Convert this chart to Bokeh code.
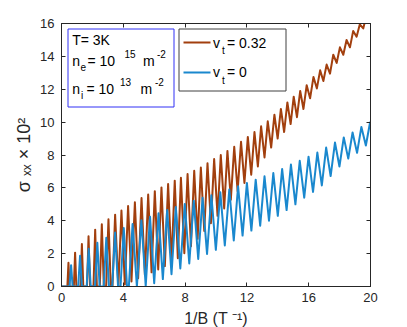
import numpy as np
from bokeh.plotting import figure
from bokeh.models import Range1d, LinearAxis, Label, BoxAnnotation, PolyAnnotation, FixedTicker
from bokeh.embed import file_html
from bokeh.resources import INLINE

# ---------------- data ----------------
# v_t = 0.32 (orange): maxima and minima of the oscillating curve
vt032_peak_x = [0.45, 0.88, 1.32, 1.75, 2.18, 2.61, 3.04, 3.47, 3.88, 4.31, 4.75, 5.18,
                5.61, 6.04, 6.47, 6.90, 7.33, 7.73, 8.16, 8.59, 9.02, 9.45, 9.88, 10.31,
                10.74, 11.18, 11.62, 12.06, 12.49, 12.92, 13.35, 13.78, 14.20, 14.62, 15.03,
                15.45, 15.87, 16.31, 16.74, 17.16, 17.59, 18.02, 18.45, 18.88, 19.31, 19.74]
vt032_peak_y = [1.44, 2.06, 2.59, 3.06, 3.46, 3.78, 4.09, 4.37, 4.62, 4.90, 5.12, 5.38,
                5.59, 5.80, 6.03, 6.24, 6.44, 6.62, 6.84, 7.04, 7.24, 7.50, 7.75, 8.00,
                8.25, 8.50, 8.80, 9.10, 9.40, 9.75, 10.05, 10.45, 10.80, 11.20, 11.55,
                11.90, 12.25, 12.75, 13.15, 13.50, 14.10, 14.55, 15.00, 15.55, 15.95, 16.50]
vt032_trough_x = [0.00, 0.38, 0.52, 0.80, 0.96, 1.23, 1.41, 1.65, 1.85, 2.07, 2.29, 2.48,
                  2.74, 2.89, 3.19, 3.30, 3.68, 4.10, 4.53, 4.96, 5.40, 5.83, 6.26, 6.69,
                  7.12, 7.53, 7.95, 8.38, 8.81, 9.24, 9.67, 10.10, 10.53, 10.96, 11.40,
                  11.84, 12.28, 12.71, 13.14, 13.57, 13.99, 14.41, 14.83, 15.24, 15.66,
                  16.09, 16.53, 16.95, 17.38, 17.81, 18.24, 18.67, 19.10, 19.53, 20.00]
vt032_trough_y = [0.00, 0.00, 0.00, 0.00, 0.00, 0.00, 0.00, 0.00, 0.00, 0.00, 0.00, 0.00,
                  0.00, 0.00, 0.00, 0.00, 0.00, 0.12, 0.30, 0.50, 0.68, 0.86, 1.04, 1.24,
                  1.45, 1.72, 2.02, 2.45, 2.90, 3.38, 3.85, 4.30, 4.75, 5.28, 5.80,
                  6.30, 6.80, 7.30, 7.85, 8.45, 9.00, 9.40, 9.88, 10.30, 10.80,
                  11.45, 12.05, 12.50, 12.95, 13.60, 14.10, 14.55, 15.20, 15.70, 16.35]

# v_t = 0 (blue)
vt0_peak_x = [0.62, 1.20, 1.76, 2.32, 2.90, 3.47, 4.03, 4.60, 5.17, 5.73, 6.28, 6.84,
              7.40, 7.98, 8.56, 9.13, 9.70, 10.28, 10.86, 11.43, 12.00, 12.57, 13.14,
              13.71, 14.28, 14.85, 15.42, 15.99, 16.56, 17.13, 17.70, 18.27, 18.84, 19.41, 19.98]
vt0_peak_y = [1.30, 1.87, 2.30, 2.66, 2.97, 3.28, 3.56, 3.80, 4.03, 4.25, 4.45, 4.65,
              4.83, 5.02, 5.22, 5.40, 5.55, 5.73, 5.90, 6.10, 6.30, 6.50, 6.70,
              6.90, 7.15, 7.42, 7.65, 7.90, 8.15, 8.45, 8.76, 9.07, 9.37, 9.71, 10.02]
vt0_trough_x = [0.00, 0.52, 0.72, 1.08, 1.32, 1.63, 1.89, 2.17, 2.47, 2.73, 3.07, 3.28,
                3.66, 3.82, 4.24, 4.36, 4.88, 5.45, 6.00, 6.56, 7.12, 7.69, 8.27, 8.85,
                9.42, 9.99, 10.57, 11.15, 11.72, 12.29, 12.86, 13.43, 14.00, 14.57, 15.14,
                15.71, 16.28, 16.85, 17.42, 17.99, 18.56, 19.13, 19.70]
vt0_trough_y = [0.00, 0.00, 0.00, 0.00, 0.00, 0.00, 0.00, 0.00, 0.00, 0.00, 0.00, 0.00,
                0.00, 0.00, 0.00, 0.00, 0.00, 0.03, 0.20, 0.45, 0.75, 1.10, 1.40, 1.68,
                1.98, 2.23, 2.50, 2.80, 3.10, 3.40, 3.70, 4.00, 4.30, 4.65, 5.00,
                5.40, 5.75, 6.15, 6.72, 7.30, 7.78, 8.13, 8.58]

x_ticks = [0, 4, 8, 12, 16, 20]
y_ticks = [0, 2, 4, 6, 8, 10, 12, 14, 16]

ORANGE = "#A23F0E"
BLUE = "#1A88CE"
AX = "#262626"
FONT = "Liberation Sans"


def merge(px, py, tx, ty):
    pts = sorted(zip(px + tx, py + ty))
    return [a for a, _ in pts], [b for _, b in pts]


ox, oy = merge(vt032_peak_x, vt032_peak_y, vt032_trough_x, vt032_trough_y)
bx, by = merge(vt0_peak_x, vt0_peak_y, vt0_trough_x, vt0_trough_y)

p = figure(frame_width=309, frame_height=263, x_range=Range1d(0, 20), y_range=Range1d(0, 16),
           output_backend="svg", toolbar_location=None,
           min_border_left=61, min_border_right=37, min_border_top=23, min_border_bottom=41)
p.background_fill_color = "white"
p.border_fill_color = "white"
p.outline_line_color = AX
p.outline_line_width = 1
p.grid.visible = False

p.line(ox, oy, line_color=ORANGE, line_width=2.0, line_join="round")
p.line(bx, by, line_color=BLUE, line_width=2.0, line_join="round")


def style_axis(ax, ticks, show_labels, standoff):
    ax.ticker = FixedTicker(ticks=ticks)
    ax.minor_tick_line_color = None
    ax.major_tick_in = 4
    ax.major_tick_out = 0
    ax.major_tick_line_color = AX
    ax.axis_line_color = AX
    ax.major_label_text_font = FONT
    ax.major_label_text_font_size = "13px"
    ax.major_label_standoff = standoff
    ax.axis_label_text_font = FONT
    ax.axis_label_text_font_style = "normal"
    ax.axis_label_text_color = AX
    ax.axis_label_text_font_size = "16px"
    if show_labels:
        ax.major_label_text_color = AX
    else:
        ax.major_label_text_color = None


style_axis(p.xaxis[0], x_ticks, True, 6)
style_axis(p.yaxis[0], y_ticks, True, 7)
p.xaxis[0].axis_label = "1/B (T \u207b\u00b9)"
p.xaxis[0].axis_label_standoff = 5
p.yaxis[0].axis_label = "\u03c3 \u2093\u2093 \u00d7 10\u00b2"
p.yaxis[0].axis_label_text_font_size = "18px"
p.yaxis[0].axis_label_standoff = 3

top = LinearAxis()
right = LinearAxis()
style_axis(top, x_ticks, False, 0)
style_axis(right, y_ticks, False, 0)
p.add_layout(top, "above")
p.add_layout(right, "right")


def lab(x, y, text, size, align="left"):
    p.add_layout(Label(x=x, y=y, x_units="screen", y_units="screen", text=text,
                       text_font=FONT, text_font_size=size, text_align=align,
                       text_baseline="middle", text_color="black"))


# text box with parameters
p.add_layout(BoxAnnotation(left=6.5, right=112.5, bottom=179.5, top=257.5,
                           left_units="screen", right_units="screen",
                           top_units="screen", bottom_units="screen",
                           fill_color="white", fill_alpha=1.0,
                           line_color="#3030F5", line_alpha=1.0, line_width=1))
lab(10.7, 246.7, "T= 3K", "14px")
lab(10.7, 226, "n", "14px")
lab(19.0, 220, "e", "10px")
lab(26.0, 226, "= 10", "14px")
lab(63.0, 233, "15", "10px")
lab(81.5, 226, "m", "14px")
lab(95.5, 233, "-2", "10px")
lab(10.7, 198, "n", "14px")
lab(19.5, 191, "i", "10px")
lab(25.0, 198, "= 10", "14px")
lab(58.5, 204.3, "13", "10px")
lab(79.0, 198, "m", "14px")
lab(93.5, 204.3, "-2", "10px")

# legend
p.add_layout(BoxAnnotation(left=117.5, right=224.5, bottom=195.5, top=257.5,
                           left_units="screen", right_units="screen",
                           top_units="screen", bottom_units="screen",
                           fill_color="white", fill_alpha=1.0,
                           line_color="#404040", line_alpha=1.0, line_width=1))
p.add_layout(PolyAnnotation(xs=[122.0, 149.0], ys=[244.0, 244.0], xs_units="screen",
                            ys_units="screen", line_color=ORANGE, line_alpha=1.0,
                            line_width=2, fill_alpha=0.0))
p.add_layout(PolyAnnotation(xs=[122.0, 149.0], ys=[214.0, 214.0], xs_units="screen",
                            ys_units="screen", line_color=BLUE, line_alpha=1.0,
                            line_width=2, fill_alpha=0.0))
lab(151.5, 244, "v", "14px")
lab(160.5, 236, "t", "10px")
lab(165.5, 244, "= 0.32", "14px")
lab(151.5, 214.5, "v", "14px")
lab(160.5, 206.5, "t", "10px")
lab(165.5, 214.5, "= 0", "14px")

open("out.html", "w").write(file_html(p, INLINE))
